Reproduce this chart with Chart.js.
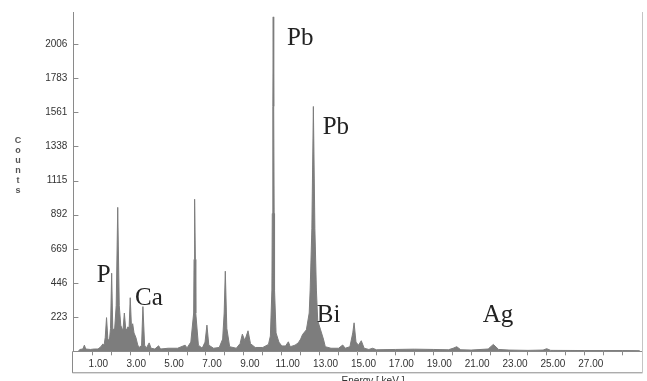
<!DOCTYPE html>
<html>
<head>
<meta charset="utf-8">
<script src="https://cdn.jsdelivr.net/npm/chart.js@4"></script>
<style>
  html, body { margin: 0; padding: 0; background: #fff; }
</style>
</head>
<body>
<canvas id="spectrumChart" width="647" height="381"></canvas>
<script>
// spectrum outline: energy (keV) and counts
const energy = [
    0.25, 0.35, 0.5, 0.58, 0.65, 0.9, 1.1, 1.3, 1.45, 1.55, 1.62, 1.68, 1.75, 1.82, 1.9, 1.96,
    2.02, 2.08, 2.18, 2.26, 2.34, 2.42, 2.5, 2.56, 2.62, 2.69, 2.76, 2.82, 2.88, 2.94, 3.0, 3.07,
    3.13, 3.2, 3.3, 3.4, 3.5, 3.6, 3.67, 3.76, 3.85, 4.0, 4.1, 4.3, 4.5, 4.6, 5.0, 5.5,
    5.9, 6.0, 6.2, 6.35, 6.37, 6.4, 6.44, 6.46, 6.6, 6.8, 6.95, 7.05, 7.15, 7.4, 7.7, 7.88,
    7.96, 8.02, 8.1, 8.25, 8.6, 8.8, 8.92, 9.05, 9.22, 9.35, 9.6, 10.0, 10.3, 10.4, 10.48, 10.5,
    10.53, 10.55, 10.575, 10.6, 10.62, 10.7, 10.85, 11.0, 11.2, 11.35, 11.45, 11.7, 11.87, 12.0, 12.1, 12.3,
    12.45, 12.5, 12.59, 12.67, 12.75, 12.83, 12.9, 13.05, 13.2, 13.3, 13.6, 14.0, 14.22, 14.35, 14.6, 14.75,
    14.82, 14.92, 15.05, 15.2, 15.35, 15.6, 15.8, 16.0, 17.0, 18.0, 19.0, 19.8, 20.05, 20.24, 20.45, 21.0,
    21.9, 22.17, 22.45, 23.0, 24.0, 24.8, 24.99, 25.2, 27.0, 28.0, 29.0, 29.9
];
const counts = [
    0, 12, 15, 40, 15, 12, 15, 15, 30, 47, 40, 90, 220, 80, 70, 150,
    510, 140, 150, 300, 940, 300, 170, 150, 140, 250, 150, 140, 160, 150, 350, 150,
    180, 120, 90, 40, 25, 40, 292, 40, 20, 55, 20, 15, 36, 15, 20, 20,
    40, 22, 60, 250, 600, 993, 600, 250, 40, 20, 60, 171, 40, 20, 25, 80,
    250, 523, 150, 30, 20, 50, 112, 70, 134, 50, 25, 25, 45, 100, 400, 900,
    1600, 2184, 1600, 900, 400, 120, 60, 35, 35, 62, 30, 40, 55, 80, 110, 140,
    250, 400, 800, 1599, 800, 400, 200, 140, 80, 30, 20, 20, 41, 20, 30, 120,
    186, 60, 40, 69, 20, 12, 20, 10, 12, 14, 12, 10, 20, 30, 10, 8,
    15, 45, 12, 8, 6, 8, 17, 6, 5, 5, 5, 4
];

const yTickValues = [223, 446, 669, 892, 1115, 1338, 1561, 1783, 2006];
const xTickValues = [1, 2, 3, 4, 5, 6, 7, 8, 9, 10, 11, 12, 13, 14, 15, 16, 17, 18, 19, 20, 21, 22, 23, 24, 25, 26, 27, 28, 29];
const xTickLabels = ['1.00', '', '3.00', '', '5.00', '', '7.00', '', '9.00', '', '11.00', '', '13.00', '', '15.00', '',
    '17.00', '', '19.00', '', '21.00', '', '23.00', '', '25.00', '', '27.00', '', ''];

// element labels and where they sit (keV, counts at the text baseline)
const peakNames = ['P', 'Ca', 'Pb', 'Pb', 'Bi', 'Ag'];
const peakKeV = [1.23, 3.25, 11.28, 13.16, 12.85, 21.61];
const peakCounts = [452, 301, 2002, 1417, 192, 192];

const axisGray = '#8a8a8a';

// frame, inner ticks and text labels
const extras = {
    id: 'extras',
    afterDraw(chart) {
        const ctx = chart.ctx;
        const a = chart.chartArea;
        const xs = chart.scales.x;
        const ys = chart.scales.y;
        const boxBottom = a.bottom + 21.5;
        ctx.save();
        ctx.strokeStyle = axisGray;
        ctx.lineWidth = 1;
        ctx.beginPath();
        yTickValues.forEach(v => {
            const py = Math.round(ys.getPixelForValue(v)) + 0.5;
            ctx.moveTo(a.left, py);
            ctx.lineTo(a.left + 5, py);
        });
        ctx.moveTo(Math.round(a.left) - 0.5, a.bottom);
        ctx.lineTo(Math.round(a.left) - 0.5, boxBottom);
        ctx.moveTo(a.left - 1, boxBottom);
        ctx.lineTo(a.right + 1, boxBottom);
        ctx.stroke();

        ctx.strokeStyle = '#c4c4c4';
        ctx.beginPath();
        ctx.moveTo(Math.round(a.right) + 0.5, a.top);
        ctx.lineTo(Math.round(a.right) + 0.5, boxBottom);
        ctx.stroke();

        ctx.fillStyle = '#222';
        ctx.font = '25px "Liberation Serif"';
        ctx.textAlign = 'left';
        ctx.textBaseline = 'alphabetic';
        peakNames.forEach((name, i) => {
            ctx.fillText(name, xs.getPixelForValue(peakKeV[i]), ys.getPixelForValue(peakCounts[i]));
        });

        ctx.fillStyle = '#555';
        ctx.font = 'bold 9px "Liberation Sans"';
        ctx.textAlign = 'center';
        'Counts'.split('').forEach((c, i) => ctx.fillText(c, 18, 143 + i * 10));

        ctx.fillStyle = '#333';
        ctx.font = '10px "Liberation Sans"';
        ctx.fillText('Energy [ keV ]', 373, 384);
        ctx.restore();
    }
};

const ctx = document.getElementById('spectrumChart').getContext('2d');
new Chart(ctx, {
    type: 'line',
    data: {
        datasets: [{
            data: energy.map((e, i) => ({ x: e, y: counts[i] })),
            borderColor: '#7d7d7d',
            backgroundColor: '#7d7d7d',
            borderWidth: 1,
            fill: 'origin',
            pointRadius: 0,
            tension: 0
        }]
    },
    options: {
        responsive: false,
        animation: false,
        layout: { padding: { top: 10, right: 5.4, bottom: 0, left: 0 } },
        plugins: {
            legend: { display: false },
            tooltip: { enabled: false }
        },
        scales: {
            x: {
                type: 'linear',
                min: 0,
                max: 30,
                afterFit(scale) { scale.height = 29.7; },
                afterBuildTicks(scale) { scale.ticks = xTickValues.map(v => ({ value: v })); },
                grid: { drawOnChartArea: false, tickLength: 4, color: axisGray },
                border: { display: true, color: axisGray },
                ticks: {
                    autoSkip: false,
                    maxRotation: 0,
                    labelOffset: 6,
                    padding: 3,
                    color: '#333',
                    font: { family: 'Liberation Sans', size: 10 },
                    callback: (v, i) => xTickLabels[i]
                }
            },
            y: {
                min: 0,
                max: 2216,
                afterFit(scale) { scale.width = 73.4; },
                afterBuildTicks(scale) { scale.ticks = yTickValues.map(v => ({ value: v })); },
                grid: { drawOnChartArea: false, drawTicks: false },
                border: { display: true, color: axisGray },
                ticks: {
                    padding: 6,
                    color: '#333',
                    font: { family: 'Liberation Sans', size: 10 },
                    callback: v => String(v)
                }
            }
        }
    },
    plugins: [extras]
});
</script>
</body>
</html>
